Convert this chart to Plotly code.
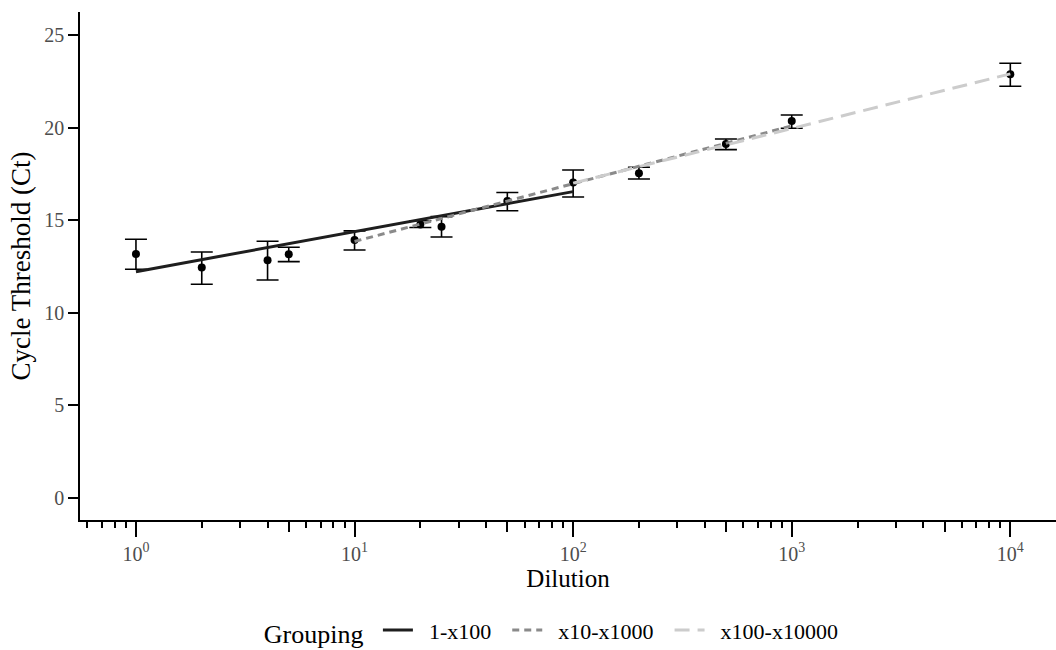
import numpy as np
import plotly.graph_objects as go

# ---- data ----
dilution = [1, 2, 4, 5, 10, 20, 25, 50, 100, 200, 500, 1000, 10000]
ct_mean = [13.17, 12.44, 12.83, 13.16, 13.93, 14.76, 14.65, 16.04, 17.03, 17.53, 19.11, 20.36, 22.88]
ct_upper = [13.97, 13.28, 13.86, 13.54, 14.42, 14.97, 15.19, 16.49, 17.71, 17.86, 19.38, 20.68, 23.47]
ct_lower = [12.35, 11.54, 11.77, 12.76, 13.39, 14.60, 14.09, 15.51, 16.25, 17.22, 18.81, 19.96, 22.23]

groups = ["1-x100", "x10-x1000", "x100-x10000"]
group_from = [1, 10, 100]
group_to = [100, 1000, 10000]
fit_intercept = [12.22, 10.73, 11.10]   # Ct at dilution 1 (log10 = 0)
fit_slope = [2.16, 3.12, 2.95]          # Ct per decade
group_colors = ["#1e1e1e", "#8a8a8a", "#cccccc"]
group_dash = ["solid", "7px,5px", "15px,8px"]

major_ticks = [1, 10, 100, 1000, 10000]
major_labels = ["10<sup>0</sup>", "10<sup>1</sup>", "10<sup>2</sup>", "10<sup>3</sup>", "10<sup>4</sup>"]
minor_ticks = [m * 10.0 ** k for k in range(-1, 4) for m in (2, 3, 4, 6, 7, 8, 9)]
mid_ticks = [5 * 10.0 ** k for k in range(-1, 4)]

FONT = "Liberation Serif"
x_range = [-0.256, 4.209]
y_range = [-1.19, 26.24]
NB = "\u00a0"

fig = go.Figure()

err_plus = [u - m for u, m in zip(ct_upper, ct_mean)]
err_minus = [m - l for m, l in zip(ct_mean, ct_lower)]
fig.add_trace(go.Scatter(
    x=dilution, y=ct_mean, mode="markers",
    marker=dict(color="black", size=8),
    error_y=dict(type="data", symmetric=False, array=err_plus, arrayminus=err_minus,
                 color="black", thickness=1.6, width=11),
    showlegend=False, hoverinfo="x+y"))

for g, a, b, c, s, col, dsh in zip(groups, group_from, group_to, fit_intercept, fit_slope,
                                     group_colors, group_dash):
    xs = np.logspace(np.log10(a), np.log10(b), 30)
    ys = c + s * np.log10(xs)
    fig.add_trace(go.Scatter(x=xs, y=ys, mode="lines", name=NB * 2 + g + NB * 2,
                             line=dict(color=col, width=3, dash=dsh)))

# invisible trace to carry the medium-length (5 x 10^k) tick axis
fig.add_trace(go.Scatter(x=[1], y=[None], xaxis="x2", mode="markers",
                         showlegend=False, hoverinfo="skip"))

fig.update_layout(
    width=1056, height=650,
    margin=dict(l=80, r=0, t=12, b=130, autoexpand=False),
    paper_bgcolor="white", plot_bgcolor="white",
    font=dict(family=FONT, color="black"),
    xaxis=dict(
        type="log", range=x_range, automargin=False,
        tickmode="array", tickvals=major_ticks, ticktext=major_labels,
        ticks="outside", ticklen=15, tickwidth=1.5, tickcolor="black",
        minor=dict(tickmode="array", tickvals=minor_ticks, ticks="outside",
                   ticklen=6, tickwidth=1.5, tickcolor="black", showgrid=False),
        showline=True, linecolor="black", linewidth=1.5,
        showgrid=False, zeroline=False,
        tickfont=dict(family=FONT, size=20, color="#4d4d4d"),
        title=dict(text="Dilution", font=dict(family=FONT, size=25, color="black"), standoff=4),
    ),
    xaxis2=dict(
        type="log", range=x_range, overlaying="x", anchor="y", side="bottom",
        automargin=False,
        tickmode="array", tickvals=mid_ticks, showticklabels=False,
        ticks="outside", ticklen=11, tickwidth=1.5, tickcolor="black",
        showline=False, showgrid=False, zeroline=False,
    ),
    yaxis=dict(
        range=y_range, tickmode="array", tickvals=[0, 5, 10, 15, 20, 25],
        automargin=False,
        ticks="outside", ticklen=10, tickwidth=1.5, tickcolor="black",
        showline=True, linecolor="black", linewidth=1.5,
        showgrid=False, zeroline=False,
        tickfont=dict(family=FONT, size=20, color="#4d4d4d"),
        title=dict(text="Cycle Threshold (Ct)", font=dict(family=FONT, size=27, color="black"), standoff=6),
    ),
    legend=dict(
        orientation="h", x=0.49, xanchor="center", y=-0.219, yanchor="middle",
        title=dict(text="Grouping ", font=dict(family=FONT, size=26, color="black"), side="left"),
        font=dict(family=FONT, size=22, color="black"),
        itemwidth=30,
    ),
)

fig.write_html("out.html", config={"displayModeBar": False},
               post_script="document.body.style.margin='0';document.body.style.overflow='hidden';")
